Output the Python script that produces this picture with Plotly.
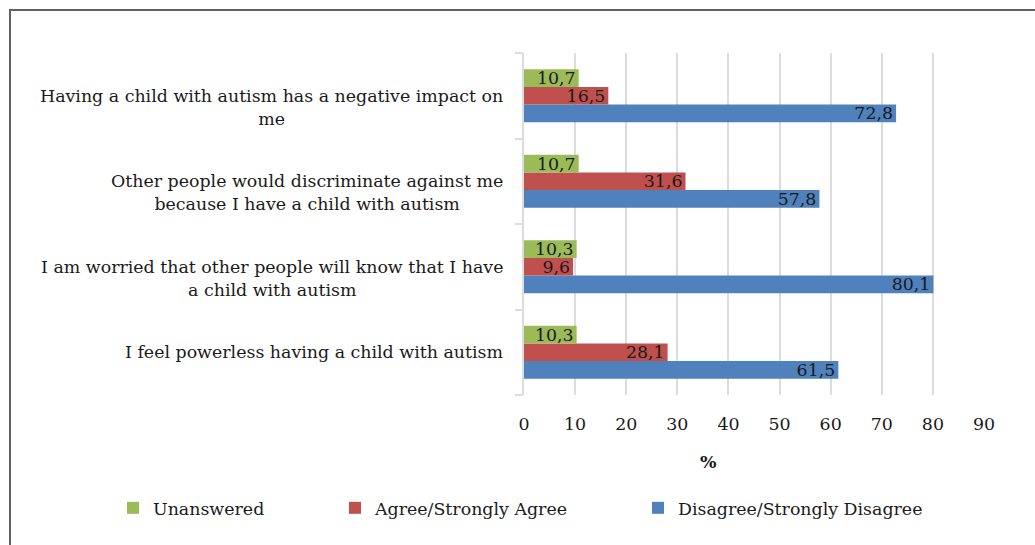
import plotly.graph_objects as go

# Survey statements (listed bottom-to-top as they appear on the axis)
statements = [
    "I feel powerless having a child with autism",
    "I am worried that other people will know that I have<br>a child with autism",
    "Other people would discriminate against me<br>because I have a child with autism",
    "Having a child with autism has a negative impact on<br>me",
]
disagree = [61.5, 80.1, 57.8, 72.8]
agree = [28.1, 9.6, 31.6, 16.5]
unanswered = [10.3, 10.3, 10.7, 10.7]
x_ticks = [0, 10, 20, 30, 40, 50, 60, 70, 80, 90]

FONT = "DejaVu Serif"
FS = 17.4
TXT = "#1a1a1a"
GRID = "#dcdcdc"

# plot area in pixels
W, H = 1035, 545
L, R, T, B = 524, 51, 53, 150
pw, ph = W - L - R, H - T - B


def px_x(p):
    return (p - L) / pw


def px_y(p):
    return (H - B - p) / ph


series = [
    ("Disagree/Strongly Disagree", disagree, "#4f81bd", "legend4"),
    ("Agree/Strongly Agree", agree, "#c0504d", "legend3"),
    ("Unanswered", unanswered, "#9bbb59", "legend2"),
]

fig = go.Figure()
for name, vals, color, leg in series:
    fig.add_trace(go.Bar(
        y=statements, x=vals, name=name, orientation="h",
        marker=dict(color=color, line=dict(width=0)),
        texttemplate="%{x:.1f}", textposition="inside",
        insidetextanchor="end", constraintext="none",
        textfont=dict(family=FONT, size=FS, color=TXT),
        legend=leg, showlegend=True,
    ))

annotations = []
for i, s in enumerate(statements):
    nlines = s.count("<br>") + 1
    annotations.append(dict(
        x=px_x(505), xref="paper", y=i, yref="y",
        text=s, showarrow=False, xanchor="right", yanchor="middle",
        align="center", yshift=-(nlines - 1) * 11.5,
        font=dict(family=FONT, size=FS, color=TXT),
    ))
annotations.append(dict(
    x=px_x(708), xref="paper", y=px_y(462), yref="paper",
    text="<b>%</b>", showarrow=False, xanchor="center", yanchor="middle",
    font=dict(family=FONT, size=FS, color=TXT),
))

leg_common = dict(orientation="h", yanchor="middle", xanchor="left",
                  font=dict(family=FONT, size=FS, color=TXT),
                  bgcolor="rgba(0,0,0,0)", itemwidth=30, visible=True)

fig.update_layout(
    width=W, height=H,
    margin=dict(l=L, r=R, t=T, b=B),
    paper_bgcolor="white", plot_bgcolor="white",
    separators=",.",
    showlegend=True,
    barmode="group", bargap=0.38, bargroupgap=0,
    font=dict(family=FONT, size=FS, color=TXT),
    annotations=annotations,
    legend2=dict(x=px_x(113), y=px_y(508), **leg_common),
    legend3=dict(x=px_x(335), y=px_y(508), **leg_common),
    legend4=dict(x=px_x(638), y=px_y(508), **leg_common),
    shapes=[dict(type="rect", xref="paper", yref="paper",
                 x0=px_x(10), x1=px_x(1045), y0=px_y(555), y1=px_y(10),
                 line=dict(color="#606060", width=2), layer="below")],
    xaxis=dict(range=[0, 90], tickvals=x_ticks, showgrid=True,
               gridcolor=GRID, gridwidth=2, zeroline=False, showline=False,
               ticks="", ticklabelstandoff=17,
               tickfont=dict(family=FONT, size=FS, color=TXT)),
    yaxis=dict(showticklabels=False, showline=True, linecolor=GRID,
               linewidth=2, ticks="outside", tickson="boundaries",
               ticklen=7, tickcolor=GRID, tickwidth=2, showgrid=False),
)

fig.write_html("out.html")
